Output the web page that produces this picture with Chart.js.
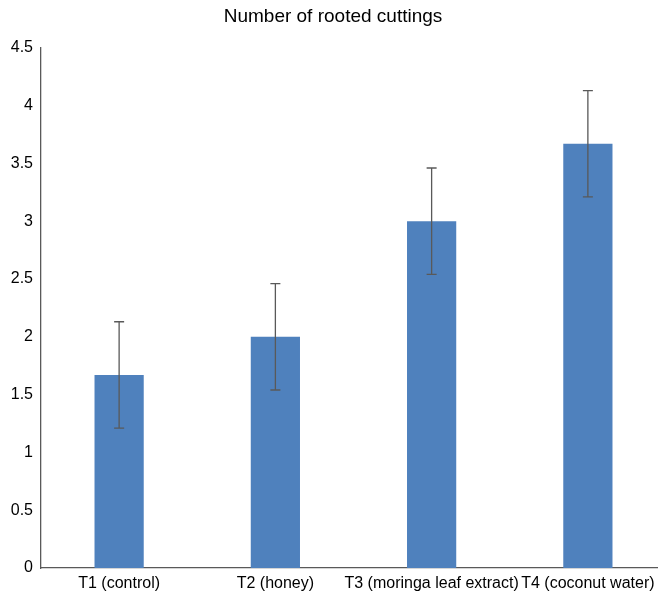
<!DOCTYPE html>
<html>
<head>
<meta charset="utf-8">
<script src="https://cdn.jsdelivr.net/npm/chart.js@4"></script>
<style>
html,body{margin:0;padding:0;overflow:hidden;background:#fff;}
canvas{display:block;}
</style>
</head>
<body>
<canvas id="c" width="666" height="598" style="width:666px;height:598px"></canvas>
<script>
const categories = ["T1 (control)", "T2 (honey)", "T3 (moringa leaf extract)", "T4 (coconut water)"];
const values = [1.67, 2.0, 3.0, 3.67];
const errors = [0.46, 0.46, 0.46, 0.46];
const yTicks = [0, 0.5, 1, 1.5, 2, 2.5, 3, 3.5, 4, 4.5];

const errorBarPlugin = {
  id: 'errorBars',
  afterDatasetsDraw(chart) {
    const ctx = chart.ctx;
    const meta = chart.getDatasetMeta(0);
    const y = chart.scales.y;
    ctx.save();
    ctx.strokeStyle = '#595959';
    ctx.lineWidth = 1.3;
    meta.data.forEach((bar, i) => {
      const x = bar.x;
      const top = y.getPixelForValue(values[i] + errors[i]);
      const bot = y.getPixelForValue(values[i] - errors[i]);
      ctx.beginPath();
      ctx.moveTo(x, top); ctx.lineTo(x, bot);
      ctx.moveTo(x - 5, top); ctx.lineTo(x + 5, top);
      ctx.moveTo(x - 5, bot); ctx.lineTo(x + 5, bot);
      ctx.stroke();
    });
    ctx.restore();
  }
};

new Chart(document.getElementById('c'), {
  type: 'bar',
  data: {
    labels: categories,
    datasets: [{
      data: values,
      backgroundColor: '#4f81bd',
      borderWidth: 0,
      barPercentage: 0.315,
      categoryPercentage: 1.0
    }]
  },
  options: {
    responsive: false,
    devicePixelRatio: 1,
    animation: false,
    layout: { padding: { left: 0, right: 0, top: 0, bottom: 0 } },
    plugins: {
      legend: { display: false },
      tooltip: { enabled: false },
      title: {
        display: true,
        text: 'Number of rooted cuttings',
        color: '#000',
        font: { family: 'Liberation Sans', size: 19, weight: 'normal' },
        padding: { top: 5, bottom: 20 }
      }
    },
    scales: {
      x: {
        grid: { display: false, drawTicks: false },
        border: { display: true, color: '#595959', width: 1.3 },
        ticks: {
          color: '#000', maxRotation: 0, minRotation: 0, autoSkip: false, padding: 6,
          font: { family: 'Liberation Sans', size: 16 }
        },
        afterFit(s) { s.height = 30; }
      },
      y: {
        min: 0, max: 4.5,
        afterBuildTicks(s) { s.ticks = yTicks.map(v => ({ value: v })); },
        grid: { display: false, drawTicks: false },
        border: { display: true, color: '#595959', width: 1.3 },
        ticks: {
          color: '#000', padding: 8,
          font: { family: 'Liberation Sans', size: 16 },
          callback: v => String(v)
        },
        afterFit(s) { s.width = 41; }
      }
    }
  },
  plugins: [errorBarPlugin]
});
</script>
</body>
</html>
